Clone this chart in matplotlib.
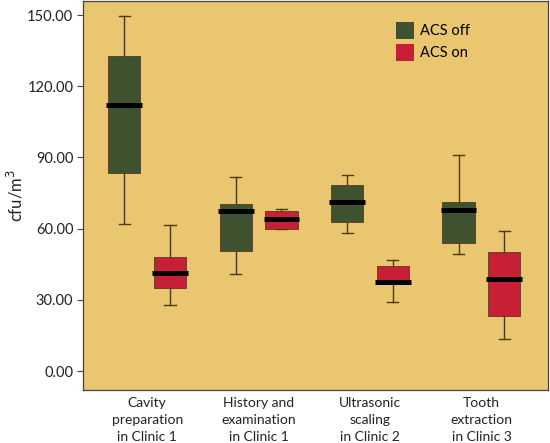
import matplotlib.pyplot as plt
from matplotlib.patches import Patch

plt.rcParams["font.family"] = ["Lato", "DejaVu Sans"]

CATEGORIES = ["Cavity\npreparation\nin Clinic 1", "History and\nexamination\nin Clinic 1",
              "Ultrasonic\nscaling\nin Clinic 2", "Tooth\nextraction\nin Clinic 3"]
SERIES = ["ACS off", "ACS on"]

# five-number summaries (cfu/m3)
OFF_LO = [62.0, 41.0, 58.1, 49.2]
OFF_Q1 = [83.3, 50.7, 62.6, 54.1]
OFF_MED = [112.0, 67.4, 71.3, 67.9]
OFF_Q3 = [132.8, 70.2, 78.6, 71.3]
OFF_HI = [149.4, 81.9, 82.8, 90.9]

ON_LO = [28.0, 60.0, 29.0, 13.3]
ON_Q1 = [35.0, 60.0, 37.5, 23.4]
ON_MED = [41.5, 64.0, 37.5, 38.9]
ON_Q3 = [48.0, 67.6, 44.2, 50.0]
ON_HI = [61.6, 68.2, 46.6, 59.2]

YTICKS = [0, 30, 60, 90, 120, 150]

BG = "#E9C66F"
GREEN = "#3E5230"
RED = "#C61F36"
WHISK = "#4a3c14"


def stats(lo, q1, med, q3, hi):
    return [dict(whislo=a, q1=b, med=c, q3=d, whishi=e)
            for a, b, c, d, e in zip(lo, q1, med, q3, hi)]


def main():
    fig = plt.figure(figsize=(5.5, 4.43), dpi=100, facecolor="white")
    ax = fig.add_axes([0.151, 0.1196, 0.846, 0.878])
    ax.set_facecolor(BG)

    n = len(CATEGORIES)
    off_pos = [i - 0.205 for i in range(n)]
    on_pos = [i + 0.205 for i in range(n)]
    for st, pos, col in ((stats(OFF_LO, OFF_Q1, OFF_MED, OFF_Q3, OFF_HI), off_pos, GREEN),
                         (stats(ON_LO, ON_Q1, ON_MED, ON_Q3, ON_HI), on_pos, RED)):
        parts = ax.bxp(st, positions=pos, widths=0.29, showfliers=False, patch_artist=True,
                       boxprops=dict(facecolor=col, edgecolor="#5a3a20", linewidth=0.6),
                       medianprops=dict(color="black", linewidth=3.6, solid_capstyle="butt"),
                       whiskerprops=dict(color=WHISK, linewidth=1.0),
                       capprops=dict(color=WHISK, linewidth=1.0), capwidths=0.1)
        # medians stick out a bit past the box
        for ln in parts["medians"]:
            x0, x1 = ln.get_xdata()[:2]
            ln.set_xdata([x0 - 0.015, x1 + 0.015])

    ax.set_xlim(-0.575, 3.6)
    ax.set_ylim(-8.0, 155.9)
    ax.set_yticks(YTICKS)
    ax.set_yticklabels([f"{v:.2f}" for v in YTICKS], fontsize=10.5, color="#222222")
    ax.set_xticks(range(n))
    ax.set_xticklabels(CATEGORIES, fontsize=10, color="#222222", linespacing=1.5)
    ax.tick_params(axis="x", length=0, pad=5)
    ax.tick_params(axis="y", length=4, color="#444444", width=0.8, pad=3)
    for s in ax.spines.values():
        s.set_color("#444444")
        s.set_linewidth(0.9)
    ax.set_ylabel("cfu/m$^3$", fontsize=12, color="#222222")
    ax.yaxis.set_label_coords(-0.124, 0.5)

    handles = [Patch(facecolor=GREEN, edgecolor="none"), Patch(facecolor=RED, edgecolor="none")]
    ax.legend(handles, SERIES, loc="upper left", bbox_to_anchor=(0.645, 0.98),
              frameon=False, fontsize=10.5, handlelength=1.2, handleheight=1.4,
              handletextpad=0.45, labelspacing=0.35)

    fig.savefig("out.png", dpi=100, facecolor="white")


if __name__ == "__main__":
    main()
